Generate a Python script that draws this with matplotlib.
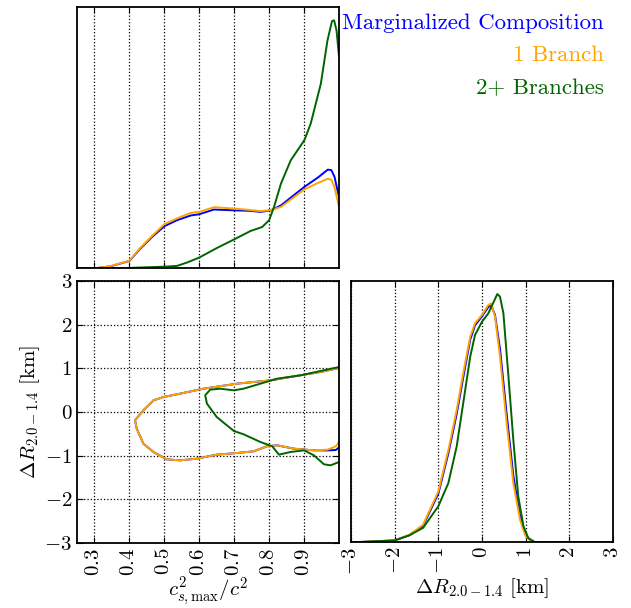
import matplotlib
matplotlib.use("Agg")
import matplotlib.pyplot as plt
import numpy as np

plt.rcParams['font.family'] = ['cmr10', 'DejaVu Serif']
plt.rcParams['mathtext.fontset'] = 'cm'
plt.rcParams['axes.formatter.use_mathtext'] = True
plt.rcParams['axes.unicode_minus'] = True

# ---- marginal of c_s,max^2 / c^2 (arbitrary density units) ----
cs_x = [0.25, 0.308, 0.346, 0.40, 0.431, 0.465, 0.50, 0.536, 0.575, 0.60, 0.642, 0.699,
        0.747, 0.776, 0.805, 0.834, 0.901, 0.94, 0.968, 0.978, 0.987, 1.0]
cs_blue = [0.0, 0.0, 0.0065, 0.027, 0.074, 0.119, 0.160, 0.183, 0.201, 0.206, 0.224, 0.221,
           0.219, 0.215, 0.221, 0.240, 0.311, 0.347, 0.377, 0.375, 0.350, 0.272]
cs_orange = [0.0, 0.0, 0.0075, 0.028, 0.077, 0.123, 0.168, 0.190, 0.211, 0.215, 0.233, 0.228,
             0.222, 0.218, 0.222, 0.234, 0.301, 0.326, 0.342, 0.338, 0.310, 0.234]
cs_green_x = [0.25, 0.393, 0.50, 0.536, 0.565, 0.60, 0.651, 0.699, 0.747, 0.78, 0.80, 0.814,
              0.834, 0.862, 0.901, 0.919, 0.948, 0.967, 0.98, 0.986, 0.993, 1.0]
cs_green = [0.0, 0.0, 0.005, 0.008, 0.021, 0.040, 0.077, 0.109, 0.142, 0.157, 0.183, 0.234,
            0.324, 0.413, 0.490, 0.553, 0.706, 0.872, 0.946, 0.949, 0.910, 0.810]

# ---- marginal of Delta R_{2.0-1.4} [km] ----
dr_x = [-3.0, -2.79, -2.0, -1.66, -1.35, -1.0, -0.77, -0.58, -0.43, -0.27, -0.16, 0.0, 0.145,
        0.206, 0.298, 0.412, 0.565, 0.717, 0.87, 1.0, 1.14, 3.0]
dr_blue = [0.0, 0.0, 0.006, 0.026, 0.062, 0.185, 0.34, 0.49, 0.63, 0.775, 0.83, 0.865, 0.90,
           0.908, 0.87, 0.74, 0.49, 0.255, 0.10, 0.027, 0.0, 0.0]
dr_orange = [0.0, 0.0, 0.0064, 0.028, 0.066, 0.194, 0.353, 0.506, 0.647, 0.787, 0.838, 0.87,
             0.908, 0.914, 0.863, 0.71, 0.455, 0.226, 0.085, 0.022, 0.0, 0.0]
dr_green_x = [-3.0, -2.79, -2.0, -1.66, -1.35, -1.0, -0.77, -0.58, -0.43, -0.27, -0.16, 0.0,
              0.145, 0.26, 0.35, 0.412, 0.49, 0.60, 0.717, 0.83, 0.95, 1.06, 1.21, 3.0]
dr_green = [0.0, 0.0, 0.006, 0.026, 0.054, 0.137, 0.226, 0.366, 0.532, 0.71, 0.793, 0.844,
            0.876, 0.917, 0.95, 0.94, 0.876, 0.646, 0.392, 0.175, 0.06, 0.015, 0.0, 0.0]

# ---- 90% contours in the (c_s^2, Delta R) plane ----
ct_cs_orange = [1.0, 0.947, 0.90, 0.804, 0.708, 0.612, 0.545, 0.498, 0.469, 0.44, 0.416,
                0.421, 0.44, 0.469, 0.507, 0.545, 0.593, 0.65, 0.708, 0.756, 0.794, 0.823,
                0.871, 0.928, 0.967, 0.991, 1.0]
ct_dr_orange = [1.008, 0.916, 0.855, 0.725, 0.649, 0.534, 0.42, 0.344, 0.267, 0.038, -0.19,
                -0.38, -0.725, -0.916, -1.084, -1.107, -1.069, -0.977, -0.939, -0.90, -0.786,
                -0.763, -0.84, -0.878, -0.863, -0.786, -0.687]
ct_cs_blue = ct_cs_orange
ct_dr_blue = ct_dr_orange[:-3] + [-0.88, -0.87, -0.81]
ct_cs_green = [1.0, 0.947, 0.89, 0.823, 0.775, 0.727, 0.699, 0.66, 0.631, 0.617, 0.622, 0.65,
               0.699, 0.727, 0.775, 0.809, 0.828, 0.861, 0.90, 0.928, 0.957, 0.976, 1.0]
ct_dr_green = [1.03, 0.939, 0.84, 0.763, 0.649, 0.534, 0.496, 0.534, 0.511, 0.382, 0.191,
               -0.115, -0.435, -0.511, -0.687, -0.786, -0.977, -0.916, -0.878, -0.992, -1.198,
               -1.221, -1.145]

cs_ticks = [0.3, 0.4, 0.5, 0.6, 0.7, 0.8, 0.9]
dr_ticks = [-3, -2, -1, 0, 1, 2, 3]

labels = ['Marginalized Composition', '1 Branch', '2+ Branches']
colors = ['#0000ff', '#ffa500', '#006400']

W, H = 631, 608
fig = plt.figure(figsize=(W / 100, H / 100), dpi=100)

def px_axes(x0, y0, x1, y1):
    return fig.add_axes([x0 / W, 1 - y1 / H, (x1 - x0) / W, (y1 - y0) / H])

ax_top = px_axes(77, 7, 339, 268)
ax_2d = px_axes(77, 281, 339, 543)
ax_dr = px_axes(351, 281, 613, 542)

lw = 1.4
for ax in (ax_top, ax_2d, ax_dr):
    for s in ax.spines.values():
        s.set_linewidth(1.3)
    ax.tick_params(direction='in', top=True, right=True, labelsize=15, length=4)

# top-left marginal
ax_top.plot(cs_x, cs_blue, color=colors[0], lw=lw)
ax_top.plot(cs_x, cs_orange, color=colors[1], lw=lw)
ax_top.plot(cs_green_x, cs_green, color=colors[2], lw=lw)
ax_top.set_xlim(0.25, 1.0)
ax_top.set_ylim(0, 1.0)
ax_top.set_xticks(cs_ticks)
ax_top.set_xticklabels([])
ax_top.set_yticks([])
ax_top.grid(True, axis='x', color='k', linestyle=':', linewidth=0.9)

# 2d contour panel
ax_2d.plot(ct_cs_blue, ct_dr_blue, color=colors[0], lw=lw)
ax_2d.plot(ct_cs_orange, ct_dr_orange, color=colors[1], lw=lw)
ax_2d.plot(ct_cs_green, ct_dr_green, color=colors[2], lw=lw)
ax_2d.set_xlim(0.25, 1.0)
ax_2d.set_ylim(-3, 3)
ax_2d.set_xticks(cs_ticks)
ax_2d.set_yticks(dr_ticks)
ax_2d.tick_params(axis='x', labelrotation=90)
ax_2d.grid(True, color='k', linestyle=':', linewidth=0.9)
ax_2d.set_xlabel(r'$c^2_{s,\mathrm{max}}/c^2$', fontsize=15, labelpad=-1)
ax_2d.set_ylabel(r'$\Delta R_{2.0-1.4}\ [\mathrm{km}]$', fontsize=15, labelpad=2)

# bottom-right marginal
ax_dr.plot(dr_x, dr_blue, color=colors[0], lw=lw)
ax_dr.plot(dr_x, dr_orange, color=colors[1], lw=lw)
ax_dr.plot(dr_green_x, dr_green, color=colors[2], lw=lw)
ax_dr.set_xlim(-3, 3)
ax_dr.set_ylim(0, 1.0)
ax_dr.set_xticks(dr_ticks)
ax_dr.set_yticks([])
ax_dr.tick_params(axis='x', labelrotation=90)
ax_dr.grid(True, axis='x', color='k', linestyle=':', linewidth=0.9)
ax_dr.set_xlabel(r'$\Delta R_{2.0-1.4}\ [\mathrm{km}]$', fontsize=15, labelpad=1)

# legend as coloured text
for i, (lab, c) in enumerate(zip(labels, colors)):
    fig.text(604 / W, 1 - (23 + 32.5 * i) / H, lab, color=c, fontsize=16.5,
             ha='right', va='center')

fig.savefig('out.png', dpi=100)
